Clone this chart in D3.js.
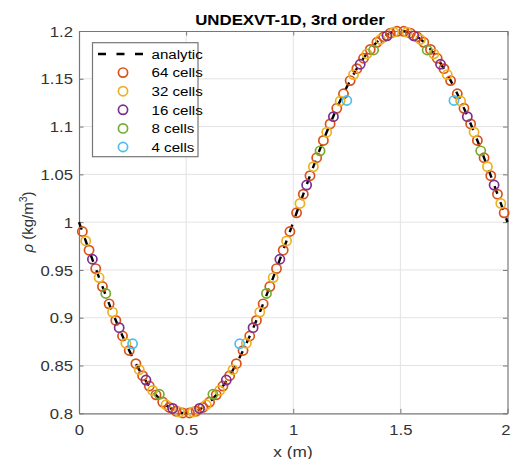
<!DOCTYPE html>
<html><head><meta charset="utf-8">
<script src="https://cdn.jsdelivr.net/npm/d3@7/dist/d3.min.js"></script>
<style>
body{margin:0;background:#fff;}
text{font-family:"Liberation Sans",Arial,Helvetica,sans-serif;}
</style></head>
<body>
<svg id="c" width="511" height="459"></svg>
<script>
const xTicks=[0,0.5,1,1.5,2];
const yTicks=[0.8,0.85,0.9,0.95,1,1.05,1.1,1.15,1.2];
const xTickLabels=["0","0.5","1","1.5","2"];
const yTickLabels=["0.8","0.85","0.9","0.95","1","1.05","1.1","1.15","1.2"];

const xAnalytic=[0,0.05,0.1,0.15,0.2,0.25,0.3,0.35,0.4,0.45,0.5,0.55,0.6,0.65,0.7,0.75,0.8,0.85,0.9,0.95,1,
1.05,1.1,1.15,1.2,1.25,1.3,1.35,1.4,1.45,1.5,1.55,1.6,1.65,1.7,1.75,1.8,1.85,1.9,1.95,2];
const rhoAnalytic=[1,0.96871,0.9382,0.9092,0.88244,0.85858,0.8382,0.8218,0.80979,0.80246,0.8,
0.80246,0.80979,0.8218,0.8382,0.85858,0.88244,0.9092,0.9382,0.96871,1,
1.03129,1.0618,1.0908,1.11756,1.14142,1.1618,1.1782,1.19021,1.19754,1.2,
1.19754,1.19021,1.1782,1.1618,1.14142,1.11756,1.0908,1.0618,1.03129,1];

const x64=[0.0156,0.0469,0.0781,0.1094,0.1406,0.1719,0.2031,0.2344,0.2656,0.2969,0.3281,0.3594,0.3906,0.4219,0.4531,0.4844,
0.5156,0.5469,0.5781,0.6094,0.6406,0.6719,0.7031,0.7344,0.7656,0.7969,0.8281,0.8594,0.8906,0.9219,0.9531,0.9844,
1.0156,1.0469,1.0781,1.1094,1.1406,1.1719,1.2031,1.2344,1.2656,1.2969,1.3281,1.3594,1.3906,1.4219,1.4531,1.4844,
1.5156,1.5469,1.5781,1.6094,1.6406,1.6719,1.7031,1.7344,1.7656,1.7969,1.8281,1.8594,1.8906,1.9219,1.9531,1.9844];
const rho64=[0.9902,0.9707,0.9514,0.9326,0.9145,0.8972,0.8809,0.8657,0.8519,0.8394,0.8285,0.8193,0.8118,0.8061,0.8022,0.8003,
0.8003,0.8022,0.8061,0.8118,0.8193,0.8285,0.8394,0.8519,0.8657,0.8809,0.8972,0.9145,0.9326,0.9514,0.9707,0.9902,
1.0098,1.0293,1.0486,1.0674,1.0855,1.1028,1.1191,1.1343,1.1481,1.1606,1.1715,1.1807,1.1882,1.1939,1.1978,1.1997,
1.1997,1.1978,1.1939,1.1882,1.1807,1.1715,1.1606,1.1481,1.1343,1.1191,1.1028,1.0855,1.0674,1.0486,1.0293,1.0098];

const x32=[0.0313,0.0938,0.1563,0.2188,0.2813,0.3438,0.4063,0.4688,0.5313,0.5938,0.6563,0.7188,0.7813,0.8438,0.9063,0.9688,
1.0313,1.0938,1.1563,1.2188,1.2813,1.3438,1.4063,1.4688,1.5313,1.5938,1.6563,1.7188,1.7813,1.8438,1.9063,1.9688];
const rho32=[0.9804,0.942,0.9059,0.8733,0.8456,0.8239,0.8089,0.8013,0.8013,0.8089,0.8239,0.8456,0.8733,0.9059,0.942,0.9804,
1.0196,1.058,1.0941,1.1267,1.1544,1.1761,1.1911,1.1987,1.1987,1.1911,1.1761,1.1544,1.1267,1.0941,1.058,1.0196];

const x16=[0.0625,0.1875,0.3125,0.4375,0.5625,0.6875,0.8125,0.9375,1.0625,1.1875,1.3125,1.4375,1.5625,1.6875,1.8125,1.9375];
const rho16=[0.9612,0.8896,0.8348,0.8051,0.8051,0.8348,0.8896,0.9612,1.0388,1.1104,1.1652,1.1949,1.1949,1.1652,1.1104,1.0388];

const x8=[0.125,0.375,0.625,0.875,1.125,1.375,1.625,1.875];
const rho8=[0.9254,0.8199,0.8199,0.9254,1.0746,1.1801,1.1801,1.0746];

const x4=[0.25,0.75,1.25,1.75];
const rho4=[0.8727,0.8727,1.1273,1.1273];

const seriesNames=["64 cells","32 cells","16 cells","8 cells","4 cells"];
const seriesColors=["#D95319","#EDB120","#7E2F8E","#77AC30","#4DBEEE"];
const seriesX=[x64,x32,x16,x8,x4];
const seriesY=[rho64,rho32,rho16,rho8,rho4];

const L=79,R=507.5,T=31,B=413.3;
const svg=d3.select("#c");
const x=d3.scaleLinear().domain([0,2]).range([L,R]);
const y=d3.scaleLinear().domain([0.8,1.2]).range([B,T]);
const SX=1.15;

// grid
const g=svg.append("g");
g.selectAll(".gx").data(xTicks.slice(1,-1)).enter().append("line")
 .attr("x1",d=>x(d)).attr("x2",d=>x(d)).attr("y1",T).attr("y2",B)
 .attr("stroke","#e3e3e3").attr("stroke-width",1);
g.selectAll(".gy").data(yTicks.slice(1,-1)).enter().append("line")
 .attr("y1",d=>y(d)).attr("y2",d=>y(d)).attr("x1",L).attr("x2",R)
 .attr("stroke","#e3e3e3").attr("stroke-width",1);

// axes (inward ticks, mirrored)
const axB=svg.append("g").attr("transform",`translate(0,${B})`)
 .call(d3.axisBottom(x).tickValues(xTicks).tickFormat((d,i)=>xTickLabels[i]).tickSizeInner(-4.5).tickSizeOuter(0));
const axT=svg.append("g").attr("transform",`translate(0,${T})`)
 .call(d3.axisTop(x).tickValues(xTicks).tickFormat("").tickSizeInner(-4.5).tickSizeOuter(0));
const axL=svg.append("g").attr("transform",`translate(${L},0)`)
 .call(d3.axisLeft(y).tickValues(yTicks).tickFormat((d,i)=>yTickLabels[i]).tickSizeInner(-4.5).tickSizeOuter(0));
const axR=svg.append("g").attr("transform",`translate(${R},0)`)
 .call(d3.axisRight(y).tickValues(yTicks).tickFormat("").tickSizeInner(-4.5).tickSizeOuter(0));
[axB,axT,axL,axR].forEach(a=>{
  a.select(".domain").attr("stroke","#777").attr("stroke-width",1.2);
  a.selectAll(".tick line").attr("stroke","#777");
});
axB.selectAll(".tick text").attr("y",0).attr("dy",0)
 .attr("transform",(d,i)=>`translate(${i===xTicks.length-1?-2:0},22) scale(${SX},1)`)
 .attr("font-size",14.5).attr("fill","#333").style("font-family","Liberation Sans, Arial, sans-serif");
axL.selectAll(".tick text").attr("x",0).attr("dy","0.35em")
 .attr("transform",`translate(-6,0) scale(${SX},1)`)
 .attr("font-size",14.5).attr("fill","#333").style("font-family","Liberation Sans, Arial, sans-serif");

// analytic
const line=d3.line().x((d,i)=>x(xAnalytic[i])).y(d=>y(d)).curve(d3.curveNatural);
svg.append("path").datum(rhoAnalytic).attr("d",line)
 .attr("fill","none").attr("stroke","#000").attr("stroke-width",2.4).attr("stroke-dasharray","8,9");

// series
seriesX.forEach((xs,k)=>{
  svg.append("g").selectAll("circle").data(seriesY[k]).enter().append("circle")
   .attr("cx",(d,i)=>x(xs[i])).attr("cy",d=>y(d)).attr("r",4.6)
   .attr("fill","none").attr("stroke",seriesColors[k]).attr("stroke-width",1.7);
});

// title
svg.append("text").attr("transform",`translate(290,25) scale(1.16,1)`)
 .attr("text-anchor","middle").attr("font-size",14.5).attr("font-weight","bold").attr("fill","#000")
 .text("UNDEXVT-1D, 3rd order");

// x label
svg.append("text").attr("transform",`translate(293,457) scale(${SX},1)`)
 .attr("text-anchor","middle").attr("font-size",15).attr("fill","#333").text("x (m)");

// y label
const yl=svg.append("text").attr("transform",`translate(33,222) rotate(-90)`)
 .attr("text-anchor","middle").attr("font-size",15).attr("fill","#333");
yl.append("tspan").attr("font-style","italic").text("ρ");
yl.append("tspan").text(" (kg/m");
yl.append("tspan").attr("dy",-6).attr("font-size",10.5).text("3");
yl.append("tspan").attr("dy",6).text(")");

// legend
const lg=svg.append("g");
lg.append("rect").attr("x",92.5).attr("y",42.7).attr("width",105.5).attr("height",114)
 .attr("fill","#fff").attr("stroke","#777").attr("stroke-width",1.2);
const rowY=[54,72.6,91.2,109.8,128.4,147];
lg.append("line").attr("x1",98).attr("x2",143).attr("y1",rowY[0]).attr("y2",rowY[0])
 .attr("stroke","#000").attr("stroke-width",2.4).attr("stroke-dasharray","8,10.5");
const legNames=["analytic"].concat(seriesNames);
legNames.forEach((n,i)=>{
  lg.append("text").attr("transform",`translate(151.5,${rowY[i]}) scale(1.12,1)`).attr("dy","0.35em")
   .attr("font-size",13.5).attr("fill","#000").text(n);
});
seriesNames.forEach((n,i)=>{
  lg.append("circle").attr("cx",123).attr("cy",rowY[i+1]).attr("r",4.6)
   .attr("fill","none").attr("stroke",seriesColors[i]).attr("stroke-width",1.7);
});
</script>
</body></html>
